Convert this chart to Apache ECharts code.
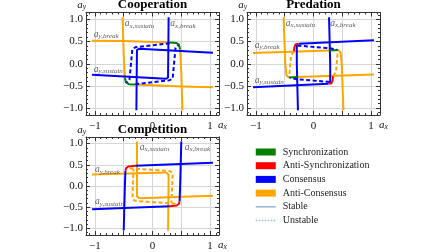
<!DOCTYPE html>
<html>
<head>
<meta charset="utf-8">
<script src="https://cdn.jsdelivr.net/npm/echarts@6/dist/echarts.min.js"></script>
<style>
  html, body { margin: 0; padding: 0; background: #fff; }
  #main { width: 448px; height: 252px; }
</style>
</head>
<body>
<div id="main"></div>
<script>
// axis setup shared by the three panels
const AX_MIN = -1.155
const AX_MAX = 1.155
const majorTicks = [-1, -0.5, 0, 0.5, 1]
const xTickLabels = [-1, 0, 1]
const yTickLabels = [-1, -0.5, 0, 0.5, 1]
const legendNames = ['Synchronization', 'Anti-Synchronization', 'Consensus', 'Anti-Consensus', 'Stable', 'Unstable']

// Cooperation
const coopOrangeTop = [[-1.05, 0.52], [-0.5, 0.51], [0.3, 0.48]]
const coopGreenTop = [[0.3, 0.48], [0.41, 0.47], [0.46, 0.43], [0.48, 0.32]]
const coopOrangeRight = [[0.48, 0.32], [0.5, -0.2], [0.52, -1.05]]
const coopOrangeBottom = [[1.05, -0.53], [0.5, -0.51], [-0.3, -0.47]]
const coopGreenBottom = [[-0.3, -0.47], [-0.41, -0.46], [-0.46, -0.42], [-0.48, -0.32]]
const coopOrangeLeft = [[-0.48, -0.32], [-0.5, 0.2], [-0.52, 1.05]]
const coopBlueUpper = [[1.05, 0.25], [-0.23, 0.34], [-0.27, 0.31], [-0.28, -1.05]]
const coopBlueLower = [[-1.05, -0.25], [0.23, -0.34], [0.27, -0.31], [0.28, 1.05]]
const coopBlueDashA = [[0.3, 0.46], [-0.3, 0.37], [-0.35, 0.33], [-0.4, -0.36], [-0.45, -0.42]]
const coopBlueDashB = [[-0.3, -0.46], [0.3, -0.37], [0.35, -0.33], [0.4, 0.36], [0.45, 0.42]]

// Predation
const predOrangeLeft = [[-0.52, 1.05], [-0.49, 0.0], [-0.47, -0.26], [-0.43, -0.31]]
const predGreenBottom = [[-0.43, -0.31], [-0.28, -0.3]]
const predOrangeBottom = [[-0.28, -0.3], [1.05, -0.24]]
const predOrangeRight = [[0.52, -1.05], [0.49, 0.0], [0.47, 0.26], [0.43, 0.31]]
const predGreenTop = [[0.43, 0.31], [0.28, 0.3]]
const predOrangeTop = [[0.28, 0.3], [-1.05, 0.24]]
const predBlueTop = [[1.05, 0.53], [-0.26, 0.45]]
const predRedTop = [[-0.26, 0.45], [-0.31, 0.44], [-0.33, 0.38], [-0.34, 0.28]]
const predBlueLeft = [[-0.29, 0.43], [-0.29, 0.0], [-0.27, -1.05]]
const predBlueBottom = [[-1.05, -0.53], [0.26, -0.45]]
const predRedBottom = [[0.26, -0.45], [0.31, -0.44], [0.33, -0.38], [0.34, -0.28]]
const predBlueRight = [[0.29, -0.43], [0.29, 0.0], [0.27, 1.05]]
const predBlueDashTop = [[-0.28, 0.41], [0.28, 0.35], [0.4, 0.32]]
const predBlueDashBottom = [[0.28, -0.41], [-0.28, -0.35], [-0.4, -0.32]]
const predOrangeDashLeft = [[-0.34, 0.28], [-0.39, 0.18], [-0.41, -0.1], [-0.42, -0.28]]
const predOrangeDashRight = [[0.34, -0.28], [0.39, -0.18], [0.41, 0.1], [0.42, 0.28]]

// Competition
const compBlueTop = [[1.05, 0.55], [-0.3, 0.48]]
const compRedTop = [[-0.3, 0.48], [-0.42, 0.46], [-0.46, 0.42], [-0.47, 0.36]]
const compBlueLeft = [[-0.47, 0.36], [-0.48, 0.0], [-0.5, -1.05]]
const compBlueBottom = [[-1.05, -0.55], [0.3, -0.48]]
const compRedBottom = [[0.3, -0.48], [0.42, -0.46], [0.46, -0.42], [0.47, -0.36]]
const compBlueRight = [[0.47, -0.36], [0.48, 0.0], [0.5, 1.05]]
const compOrangeLeft = [[-0.27, 1.05], [-0.27, -0.24], [-0.23, -0.29]]
const compOrangeBottom = [[-0.23, -0.29], [1.05, -0.23]]
const compOrangeRight = [[0.27, -1.05], [0.28, 0.26], [0.24, 0.32]]
const compOrangeTop = [[0.24, 0.32], [-1.05, 0.27]]
const compOrangeDashA = [[-0.4, 0.42], [0.3, 0.35], [0.35, 0.31], [0.33, -0.4]]
const compOrangeDashB = [[0.4, -0.42], [-0.3, -0.35], [-0.35, -0.31], [-0.33, 0.4]]

const GREEN = '#008000'
const RED = '#ff0000'
const BLUE = '#0000ff'
const ORANGE = '#ffa500'
const LEGEND_LINE = '#94b7d9'
const SERIF = 'Liberation Serif'

const PANEL_W = 133
const PANEL_H = 103

const panels = [
  {
    title: 'Cooperation', left: 86, top: 12,
    curves: [
      [coopOrangeTop, ORANGE], [coopOrangeRight, ORANGE], [coopOrangeBottom, ORANGE], [coopOrangeLeft, ORANGE],
      [coopBlueUpper, BLUE], [coopBlueLower, BLUE],
      [coopBlueDashA, BLUE, true], [coopBlueDashB, BLUE, true],
      [coopGreenTop, GREEN], [coopGreenBottom, GREEN],
    ],
    notes: [['x,sustain', -0.48, 0.9], ['x,break', 0.31, 0.9], ['y,break', -1.02, 0.66], ['y,sustain', -1.02, -0.12]],
  },
  {
    title: 'Predation', left: 247, top: 12,
    curves: [
      [predOrangeLeft, ORANGE], [predOrangeBottom, ORANGE], [predOrangeRight, ORANGE], [predOrangeTop, ORANGE],
      [predBlueTop, BLUE], [predBlueLeft, BLUE], [predBlueBottom, BLUE], [predBlueRight, BLUE],
      [predBlueDashTop, BLUE, true], [predBlueDashBottom, BLUE, true],
      [predOrangeDashLeft, ORANGE, true], [predOrangeDashRight, ORANGE, true],
      [predGreenBottom, GREEN], [predGreenTop, GREEN], [predRedTop, RED], [predRedBottom, RED],
    ],
    notes: [['x,sustain', -0.48, 0.91], ['x,break', 0.29, 0.91], ['y,break', -1.02, 0.41], ['y,sustain', -1.02, -0.37]],
  },
  {
    title: 'Competition', left: 86, top: 137,
    curves: [
      [compOrangeLeft, ORANGE], [compOrangeBottom, ORANGE], [compOrangeRight, ORANGE], [compOrangeTop, ORANGE],
      [compBlueTop, BLUE], [compBlueLeft, BLUE], [compBlueBottom, BLUE], [compBlueRight, BLUE],
      [compOrangeDashA, ORANGE, true], [compOrangeDashB, ORANGE, true],
      [compRedTop, RED], [compRedBottom, RED],
    ],
    notes: [['x,sustain', -0.22, 0.91], ['x,break', 0.56, 0.91], ['y,break', -1.0, 0.38], ['y,sustain', -1.0, -0.37]],
  },
]

// minus sign like the reference
function fmt(v, digits) {
  const s = Math.abs(v).toFixed(digits)
  return v < 0 ? '\u2212' + s : s
}

const nameRich = {
  i: { fontFamily: SERIF, fontStyle: 'italic', fontSize: 11, color: '#111' },
  s: { fontFamily: SERIF, fontStyle: 'italic', fontSize: 7.5, color: '#111', padding: [4, 0, 0, 0] },
}

function makeAxis(gi, position, main) {
  const horiz = position === 'bottom' || position === 'top'
  const ax = {
    type: 'value', gridIndex: gi, position: position, min: AX_MIN, max: AX_MAX,
    axisLine: { show: true, onZero: false, lineStyle: { color: '#333', width: 1 } },
    axisTick: { show: true, inside: true, length: 4, customValues: majorTicks, lineStyle: { color: '#333' } },
    minorTick: { show: true, splitNumber: 5, length: 2, lineStyle: { color: '#333' } },
    splitLine: { show: main, lineStyle: { color: '#d6d6d6', width: 1 } },
    axisLabel: {
      show: main,
      customValues: horiz ? xTickLabels : yTickLabels,
      margin: horiz ? 6 : 3,
      fontFamily: SERIF, fontSize: 11, color: '#111',
      formatter: v => horiz ? fmt(v, 0) : fmt(v, 1),
    },
  }
  if (main) {
    ax.name = horiz ? '{i|a}{s|x}' : '{i|a}{s|y}'
    ax.nameLocation = 'end'
    ax.nameGap = horiz ? -1 : 1
    ax.nameTextStyle = horiz
      ? { align: 'left', verticalAlign: 'top', padding: [4, 0, 0, 0], rich: nameRich }
      : { align: 'right', verticalAlign: 'bottom', rich: nameRich }
  }
  return ax
}

const grids = []
const xAxes = []
const yAxes = []
const titles = []
const series = []

panels.forEach((p, i) => {
  grids.push({ left: p.left, top: p.top, width: PANEL_W, height: PANEL_H })
  titles.push({
    text: p.title, left: p.left + PANEL_W / 2, top: p.top - 14, textAlign: 'center', padding: 0,
    textStyle: { fontFamily: SERIF, fontWeight: 'bold', fontSize: 13, color: '#000' },
  })
  xAxes.push(makeAxis(i, 'bottom', true), makeAxis(i, 'top', false))
  yAxes.push(makeAxis(i, 'left', true), makeAxis(i, 'right', false))

  const ai = i * 2
  p.curves.forEach(c => {
    series.push({
      type: 'line', data: c[0], xAxisIndex: ai, yAxisIndex: ai,
      symbol: 'none', silent: true, z: c[2] ? 3 : 2,
      lineStyle: { color: c[1], width: 2, type: c[2] ? [4, 2.5] : 'solid', join: 'round' },
    })
  })
  // the a_{x,...} / a_{y,...} annotations
  series.push({
    type: 'scatter', xAxisIndex: ai, yAxisIndex: ai, symbolSize: 0, silent: true, z: 5,
    data: p.notes.map(n => ({ name: n[0], value: [n[1], n[2]] })),
    label: {
      show: true, position: 'right', distance: 0,
      formatter: q => '{a|a}{s|' + q.name + '}',
      rich: {
        a: { fontFamily: SERIF, fontStyle: 'italic', fontSize: 9.5, color: '#333' },
        s: { fontFamily: SERIF, fontStyle: 'italic', fontSize: 7, color: '#333', padding: [4, 0, 0, 0] },
      },
    },
  })
})

// legend-only series
const patchColors = [GREEN, RED, BLUE, ORANGE]
patchColors.forEach((col, k) => {
  series.push({ type: 'scatter', name: legendNames[k], data: [], itemStyle: { color: col } })
})
series.push({ type: 'line', name: legendNames[4], data: [], symbol: 'none', lineStyle: { color: LEGEND_LINE, width: 1.5 } })
series.push({ type: 'line', name: legendNames[5], data: [], symbol: 'none', lineStyle: { color: LEGEND_LINE, width: 1.5, type: 'dotted' } })

const legendData = legendNames.map((n, k) => {
  if (k < 4) return { name: n, icon: 'rect', itemStyle: { color: patchColors[k], opacity: 1 } }
  return {
    name: n,
    itemStyle: { opacity: 0 },
    lineStyle: { color: LEGEND_LINE, width: 1.5, type: k === 5 ? 'dotted' : 'solid' },
  }
})

const chart = echarts.init(document.getElementById('main'))
chart.setOption({
  animation: false,
  title: titles,
  grid: grids,
  xAxis: xAxes,
  yAxis: yAxes,
  legend: {
    orient: 'vertical', left: 255, top: 147, padding: 0,
    itemWidth: 20, itemHeight: 7, itemGap: 3.7,
    selectedMode: false,
    textStyle: { fontFamily: SERIF, fontSize: 10, color: '#222', padding: [0, 0, 0, 2] },
    data: legendData,
  },
  series: series,
})
</script>
</body>
</html>
